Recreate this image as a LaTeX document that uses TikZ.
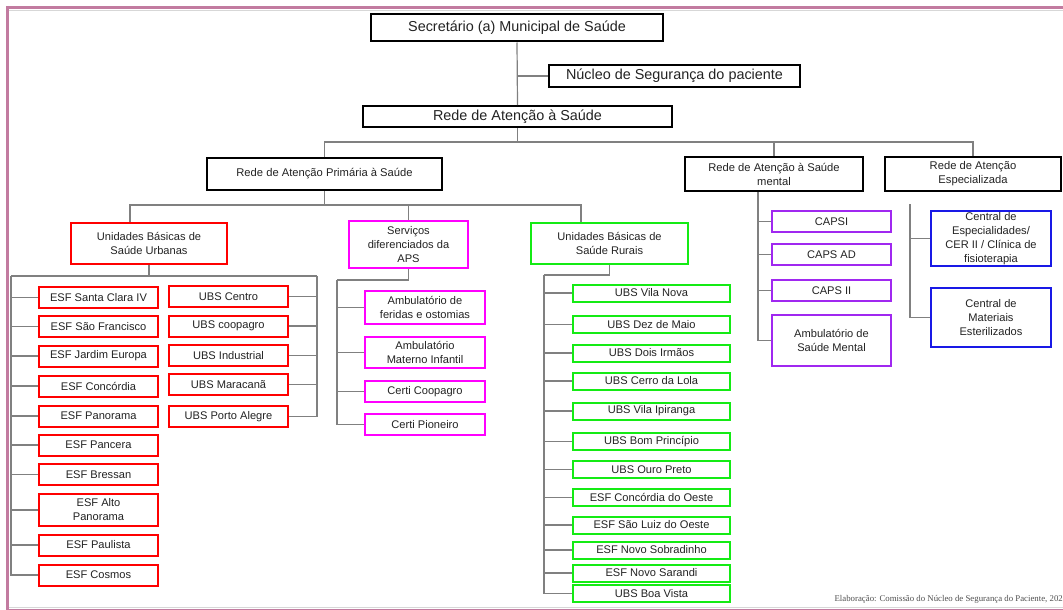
\documentclass[tikz,border=0pt]{standalone}
\usepackage{fontspec}
\setmainfont{Liberation Sans}
\newfontfamily\notefont{Liberation Serif}
\definecolor{framemauve}{RGB}{194,123,160}
\definecolor{rulegray}{RGB}{215,215,215}
\definecolor{linkgray}{RGB}{128,128,128}
\definecolor{txt}{RGB}{34,34,34}
\definecolor{urbred}{RGB}{255,0,0}
\definecolor{apspink}{RGB}{255,0,255}
\definecolor{rurgreen}{RGB}{20,235,20}
\definecolor{mentpurple}{RGB}{160,40,240}
\definecolor{espblue}{RGB}{25,25,230}
\tikzstyle{box} = [rectangle, line width=2pt, text=txt, align=center, inner sep=1pt]
\tikzstyle{mainbox} = [box, draw=black, font=\fontsize{14.4}{17}\selectfont]
\tikzstyle{netbox} = [box, draw=black, font=\fontsize{11.2}{14}\selectfont]
\tikzstyle{urbbox} = [box, draw=urbred, font=\fontsize{11.1}{14}\selectfont, minimum width=119pt, minimum height=21pt]
\tikzstyle{apsbox} = [box, draw=apspink, font=\fontsize{11.1}{14}\selectfont, minimum width=120pt, minimum height=21pt]
\tikzstyle{rurbox} = [box, draw=rurgreen, font=\fontsize{11.1}{14}\selectfont, minimum width=157pt, minimum height=17pt]
\tikzstyle{mentbox} = [box, draw=mentpurple, font=\fontsize{11.1}{14}\selectfont, minimum width=119pt, minimum height=21pt]
\tikzstyle{espbox} = [box, draw=espblue, font=\fontsize{11.1}{14}\selectfont, minimum width=120pt, minimum height=21pt]
\tikzstyle{link} = [draw=linkgray, line width=1.2pt]
\begin{document}
\begin{tikzpicture}[x=1pt, y=-1pt]
\useasboundingbox (0,0) rectangle (1063,610);
% frame
\draw [draw=framemauve, line width=3pt] (6,7.5) -- (1063,7.5);
\draw [draw=framemauve, line width=3pt] (7.5,6) -- (7.5,610);
\draw [draw=rulegray, line width=1pt] (9,10.5) -- (1063,10.5);
\draw [draw=rulegray, line width=1pt] (9,607) -- (1063,607);
\draw [draw=framemauve, line width=1.2pt] (6,609.4) -- (1063,609.4);

% top levels
\node (sec) [mainbox, minimum width=292pt, minimum height=27pt] at (517,28) {Secretário (a) Municipal de Saúde};
\node (nucleo) [mainbox, minimum width=251pt, minimum height=22pt] at (674.5,76) {Núcleo de Segurança do paciente};
\node (rede) [mainbox, minimum width=309pt, minimum height=21pt] at (517.5,116.5) {Rede de Atenção à Saúde};
\node (prim) [netbox, minimum width=235pt, minimum height=32pt] at (324.5,174) {Rede de Atenção Primária à Saúde};
\node (mental) [netbox, minimum width=178pt, minimum height=34pt] at (774,174) {Rede de Atenção à Saúde\\mental};
\node (espec) [netbox, minimum width=176pt, minimum height=34pt] at (973,174) {Rede de Atenção\\Especializada};

% atencao primaria
\node (urb) [urbbox, minimum width=156pt, minimum height=41pt] at (149,243.5) {Unidades Básicas de\\Saúde Urbanas};
\node (serv) [apsbox, minimum width=119pt, minimum height=47pt] at (408.5,244.5) {Serviços\\diferenciados da\\APS};
\node (rur) [rurbox, minimum height=41pt] at (609.5,243.5) {Unidades Básicas de\\Saúde Rurais};

\node (esf1) [urbbox] at (98.5,297.5) {ESF Santa Clara IV};
\node (esf2) [urbbox] at (98.5,326.5) {ESF São Francisco};
\node (esf3) [urbbox] at (98.5,356) {ESF Jardim Europa};
\node (esf4) [urbbox] at (98.5,386) {ESF Concórdia};
\node (esf5) [urbbox] at (98.5,416) {ESF Panorama};
\node (esf6) [urbbox] at (98.5,445) {ESF Pancera};
\node (esf7) [urbbox] at (98.5,474.5) {ESF Bressan};
\node (esf8) [urbbox, minimum height=32pt] at (98.5,510) {ESF Alto\\Panorama};
\node (esf9) [urbbox] at (98.5,545) {ESF Paulista};
\node (esf10) [urbbox] at (98.5,575) {ESF Cosmos};

\node (ubs1) [urbbox] at (228.5,296.5) {UBS Centro};
\node (ubs2) [urbbox] at (228.5,326) {UBS coopagro};
\node (ubs3) [urbbox] at (228.5,355.5) {UBS Industrial};
\node (ubs4) [urbbox] at (228.5,384.5) {UBS Maracanã};
\node (ubs5) [urbbox] at (228.5,416.5) {UBS Porto Alegre};

\node (amb1) [apsbox, minimum height=33pt] at (425,307.5) {Ambulatório de\\feridas e ostomias};
\node (amb2) [apsbox, minimum height=31pt] at (425,352.5) {Ambulatório\\Materno Infantil};
\node (certi1) [apsbox] at (425,391.5) {Certi Coopagro};
\node (certi2) [apsbox] at (425,424.5) {Certi Pioneiro};

\node (r1) [rurbox] at (651.5,293) {UBS Vila Nova};
\node (r2) [rurbox] at (651.5,324.5) {UBS Dez de Maio};
\node (r3) [rurbox] at (651.5,353) {UBS Dois Irmãos};
\node (r4) [rurbox] at (651.5,381) {UBS Cerro da Lola};
\node (r5) [rurbox] at (651.5,411) {UBS Vila Ipiranga};
\node (r6) [rurbox] at (651.5,441.5) {UBS Bom Princípio};
\node (r7) [rurbox] at (651.5,469.5) {UBS Ouro Preto};
\node (r8) [rurbox] at (651.5,497.5) {ESF Concórdia do Oeste};
\node (r9) [rurbox] at (651.5,525) {ESF São Luiz do Oeste};
\node (r10) [rurbox] at (651.5,550) {ESF Novo Sobradinho};
\node (r11) [rurbox] at (651.5,573) {ESF Novo Sarandi};
\node (r12) [rurbox] at (651.5,593.5) {UBS Boa Vista};

% saude mental
\node (capsi) [mentbox] at (831.5,221.5) {CAPSI};
\node (capsad) [mentbox] at (831.5,254.5) {CAPS AD};
\node (capsii) [mentbox] at (831.5,290.5) {CAPS II};
\node (ambsm) [mentbox, minimum height=51pt] at (831.5,340.5) {Ambulatório de\\Saúde Mental};

% especializada
\node (cesp) [espbox, minimum height=55pt] at (991,238.5) {Central de\\Especialidades/\\CER II / Clínica de\\fisioterapia};
\node (cmat) [espbox, minimum height=59pt] at (991,317.5) {Central de\\Materiais\\Esterilizados};

\node (note) [anchor=east, inner sep=0pt, text=txt!80, font=\notefont\fontsize{8.8}{10}\selectfont] at (1063,599) {Elaboração: Comissão do Núcleo de Segurança do Paciente, 202};

% connectors
\coordinate (redebus) at (517.5,142);
\coordinate (primbus) at (324.5,205);
\coordinate (urbtop) at (130,205);
\coordinate (rurtop) at (581,205);
\coordinate (urbleft) at (11,276);
\coordinate (urbright) at (317,276);
\coordinate (servbus) at (337,280);
\coordinate (rurbus) at (544,275);
\coordinate (mentbus) at (758,192);
\coordinate (espbus) at (910,204);

\draw [link] (sec.south) -- (rede.north);
\draw [link] (sec.south |- nucleo.west) -- (nucleo.west);
\draw [link] (rede.south) -- (redebus);
\draw [link] (prim.north) |- (espec.north |- redebus) -- (espec.north);
\draw [link] (mental.north) -- (mental.north |- redebus);

\draw [link] (prim.south) -- (primbus);
\draw [link] (urbtop |- urb.north) -- (urbtop) -- (rurtop) -- (rurtop |- rur.north);
\draw [link] (serv.north) -- (serv.north |- primbus);

\draw [link] (urb.south) -- (urb.south |- urbleft);
\draw [link] (urbleft) -- (urbright);
\draw [link] (urbleft) |- (esf1.west);
\draw [link] (urbleft) |- (esf2.west);
\draw [link] (urbleft) |- (esf3.west);
\draw [link] (urbleft) |- (esf4.west);
\draw [link] (urbleft) |- (esf5.west);
\draw [link] (urbleft) |- (esf6.west);
\draw [link] (urbleft) |- (esf7.west);
\draw [link] (urbleft) |- (esf8.west);
\draw [link] (urbleft) |- (esf9.west);
\draw [link] (urbleft) |- (esf10.west);
\draw [link] (urbright) |- (ubs1.east);
\draw [link] (urbright) |- (ubs2.east);
\draw [link] (urbright) |- (ubs3.east);
\draw [link] (urbright) |- (ubs4.east);
\draw [link] (urbright) |- (ubs5.east);

\draw [link] (serv.south) |- (servbus);
\draw [link] (servbus) |- (amb1.west);
\draw [link] (servbus) |- (amb2.west);
\draw [link] (servbus) |- (certi1.west);
\draw [link] (servbus) |- (certi2.west);

\draw [link] (rur.south) |- (rurbus);
\draw [link] (rurbus) |- (r1.west);
\draw [link] (rurbus) |- (r2.west);
\draw [link] (rurbus) |- (r3.west);
\draw [link] (rurbus) |- (r4.west);
\draw [link] (rurbus) |- (r5.west);
\draw [link] (rurbus) |- (r6.west);
\draw [link] (rurbus) |- (r7.west);
\draw [link] (rurbus) |- (r8.west);
\draw [link] (rurbus) |- (r9.west);
\draw [link] (rurbus) |- (r10.west);
\draw [link] (rurbus) |- (r11.west);
\draw [link] (rurbus) |- (r12.west);

\draw [link] (mentbus) |- (capsi.west);
\draw [link] (mentbus) |- (capsad.west);
\draw [link] (mentbus) |- (capsii.west);
\draw [link] (mentbus) |- (ambsm.west);

\draw [link] (espbus) |- (cesp.west);
\draw [link] (espbus) |- (cmat.west);
\end{tikzpicture}
\end{document}
